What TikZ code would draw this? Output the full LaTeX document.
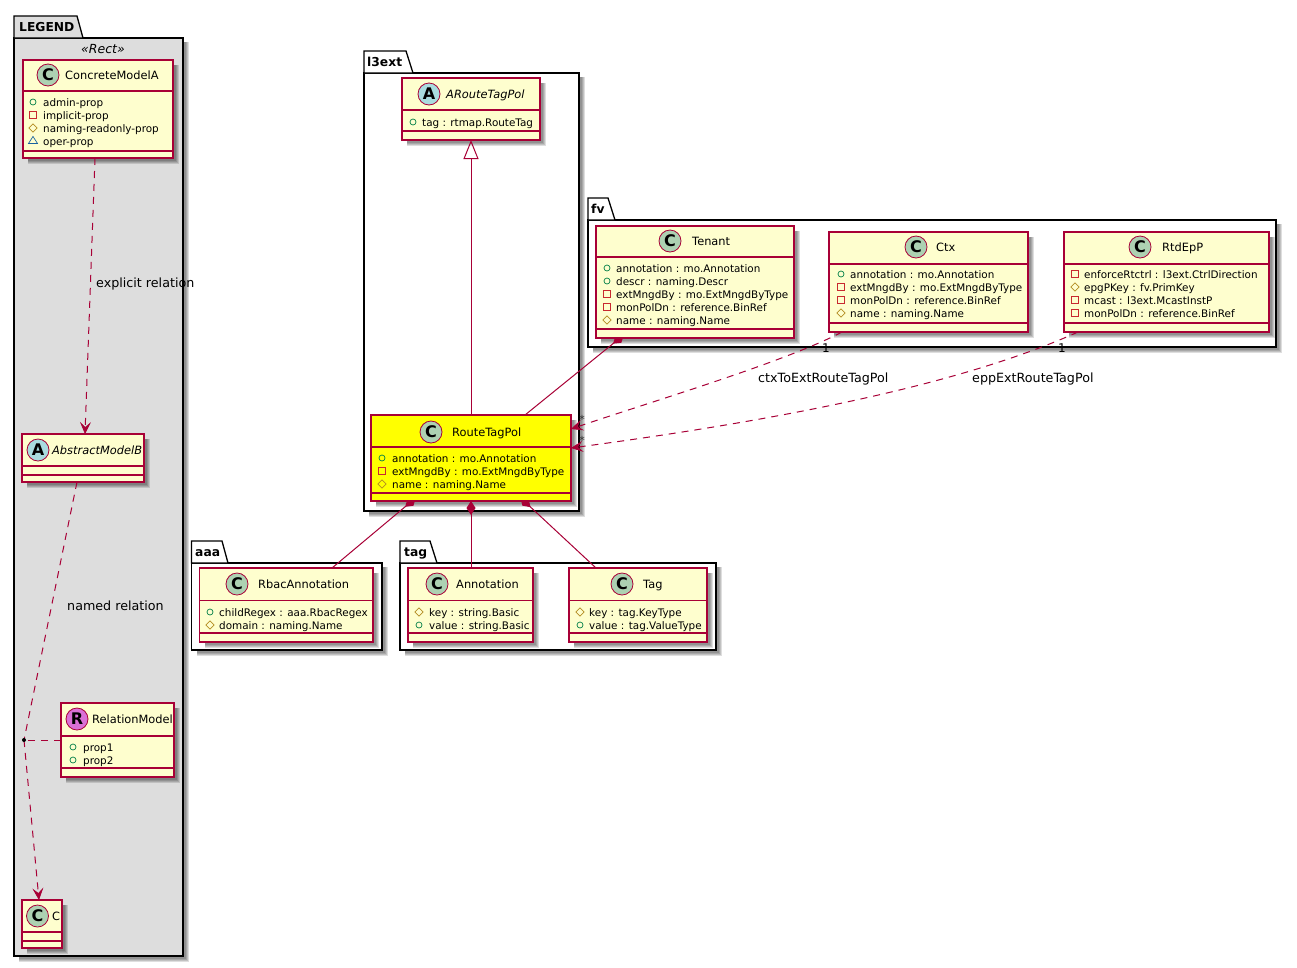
\documentclass[tikz,border=0pt]{standalone}
\usepackage{fontspec}
\setmainfont{DejaVu Sans}
\usepackage{xcolor}
\usetikzlibrary{arrows.meta}
\usetikzlibrary{shapes.geometric}
\definecolor{umlred}{HTML}{A80036}
\definecolor{umlcream}{HTML}{FEFECE}
\definecolor{umlyellow}{HTML}{FFFF00}
\definecolor{legendgrey}{HTML}{DDDDDD}
\definecolor{spotc}{HTML}{ADD1B2}
\definecolor{spota}{HTML}{A9DCDF}
\definecolor{spotr}{HTML}{DA70D6}
\definecolor{pubgreen}{HTML}{038048}
\definecolor{prired}{HTML}{C82930}
\definecolor{proyellow}{HTML}{B38D22}
\definecolor{pkgblue}{HTML}{1963A0}
\pgfdeclarelayer{pkglayer}
\pgfdeclarelayer{shadelayer}
\pgfdeclarelayer{edgelayer}
\pgfsetlayers{pkglayer,shadelayer,edgelayer,main}
\newcommand{\memberrows}[5]{%
  \foreach \v/\t [count=\i] in {#5}{
    \node[\v] (#1-i\i) at (#2,{#4+13*(\i-1)}) {};
    \node[mem] (#1-m\i) at (#3,{#4+13*(\i-1)}) {\t};}}
\begin{document}
\begin{tikzpicture}[x=1pt, y=-1pt,
    cls/.style={draw=umlred, line width=1.25pt, inner sep=0pt, outer sep=0pt},
    clsline/.style={draw=umlred, line width=1.25pt},
    spot/.style={circle, draw=umlred, line width=0.8pt, minimum size=22pt, inner sep=0pt,
                 font=\fontsize{16}{16}\selectfont\bfseries},
    ttl/.style={anchor=west, inner sep=0pt, text height=11pt, text depth=3pt,
                font=\fontsize{11.4}{13}\selectfont},
    mem/.style={anchor=west, inner sep=0pt, text height=10pt, text depth=2pt,
                font=\fontsize{10.4}{13}\selectfont},
    lbl/.style={anchor=west, inner sep=0pt, text height=11pt, text depth=3pt,
                font=\fontsize{12.7}{14}\selectfont},
    card/.style={inner sep=0pt, font=\fontsize{12}{13}\selectfont},
    star/.style={inner sep=0pt, text=black!80, font=\fontsize{11}{12}\selectfont},
    pub/.style={circle, draw=pubgreen, line width=0.7pt, minimum size=6pt, inner sep=0pt},
    pri/.style={rectangle, draw=prired, line width=0.7pt, minimum size=6.5pt, inner sep=0pt},
    pro/.style={diamond, draw=proyellow, line width=0.7pt, minimum size=8.5pt, inner sep=0pt},
    pkg/.style={isosceles triangle, shape border rotate=90, isosceles triangle stretches,
                draw=pkgblue, line width=0.7pt, minimum width=9pt, minimum height=7pt, inner sep=0pt},
    dep/.style={draw=umlred, line width=1pt, dash pattern=on 7pt off 6pt},
    conn/.style={draw=umlred, line width=1pt},
    tipv/.style={-{Stealth[length=12pt, width=11pt, inset=5pt, fill=umlred, line width=0.6pt]}},
    tipo/.style={{Diamond[length=14pt, width=9pt, fill=umlred]}-},
    tipcut/.style={tipo, shorten <=-5pt}]
  \useasboundingbox (0,0) rectangle (1297,967);
  % packages
  \begin{pgfonlayer}{pkglayer}
    \foreach \nm/\lo/\ti/\ro/\bo/\tt/\tr/\tb/\bg in {legend/14/38/183/956/16/77/83/legendgrey,
                                                     lext/364/73/579/511/51/406/413/white,
                                                     fv/588/220/1276/347/198/608/615/white,
                                                     aaa/191.5/563/382/650/541/222/228/white,
                                                     tag/400/563/716/650/541/430/437/white}{
      \foreach \e in {2,1,0,-1}
        \fill[black, opacity=0.13] (\lo+5,\ti+4) rectangle (\ro+4+\e,\bo+4+\e);
      \filldraw[draw=black, line width=1.3pt, fill=\bg] (\lo,\ti) rectangle (\ro,\bo);
      \filldraw[draw=black, line width=1.3pt, fill=\bg] (\lo,\ti) -- (\lo,\tt) -- (\tr,\tt) -- (\tb,\ti) -- cycle;}
  \end{pgfonlayer}
  \foreach \nm/\lx/\ly/\t in {legend/19/27/LEGEND, lext/367/62/l3ext, fv/591/209/fv, aaa/195/552/aaa, tag/404/552/tag}
    \node[anchor=west, inner sep=0pt, text height=11pt, text depth=3pt, font=\fontsize{12.3}{14}\selectfont\bfseries] (\nm-lbl) at (\lx,\ly) {\t};
  \node[inner sep=0pt, font=\fontsize{12.5}{14}\selectfont\itshape] (legend-st) at (103,49) {«Rect»};
  % class boxes
  \foreach \id/\lo/\ti/\ro/\bo/\hd/\se/\bg in {cma/23/60/173/158/91/151/umlcream,
                                               amb/22/434/144/482/466/475/umlcream,
                                               rel/61/703/174/777/736/768/umlcream,
                                               c/22/900/62/948/932/941/umlcream,
                                               art/402/78/540/140/110/131/umlcream,
                                               rtp/371/415/571/501/447/493/umlyellow,
                                               tenant/596/226/794/338/257/329/umlcream,
                                               ctx/829/232/1028/332/264/323/umlcream,
                                               epp/1064/232/1269/332/264/323/umlcream,
                                               rbac/199.5/568/373/642/600.5/633/umlcream,
                                               ann/408/568/533/642/600.5/633/umlcream,
                                               tg/569/568/707/642/600.5/633/umlcream}{
    \begin{pgfonlayer}{shadelayer}
      \foreach \e in {2,1,0,-1}
        \fill[black, opacity=0.13] (\lo+5,\ti+5) rectangle (\ro+4+\e,\bo+4+\e);
    \end{pgfonlayer}
    \node[cls, fill=\bg, minimum width={(\ro-\lo)*1pt}, minimum height={(\bo-\ti)*1pt}] (\id) at ({(\lo+\ro)/2},{(\ti+\bo)/2}) {};
    \draw[clsline] (\lo,\hd) -- (\ro,\hd);
    \draw[clsline] (\lo,\se) -- (\ro,\se);}
  % headers
  \foreach \id/\sx/\sy/\l/\sc/\tx/\t/\fn in {cma/48/75/C/spotc/65/ConcreteModelA/\relax,
                                             amb/38/450/A/spota/52/AbstractModelB/\itshape,
                                             rel/77/719/R/spotr/92/RelationModel/\relax,
                                             c/37.5/916/C/spotc/52/C/\relax,
                                             art/429/94/A/spota/446/ARouteTagPol/\itshape,
                                             rtp/431/432/C/spotc/452/RouteTagPol/\relax,
                                             tenant/670/241/C/spotc/692/Tenant/\relax,
                                             ctx/916/247/C/spotc/936/Ctx/\relax,
                                             epp/1140/247/C/spotc/1162/RtdEpP/\relax,
                                             rbac/237/584/C/spotc/258/RbacAnnotation/\relax,
                                             ann/437/584/C/spotc/456/Annotation/\relax,
                                             tg/622/584/C/spotc/643/Tag/\relax}{
    \node[spot, fill=\sc] (\id-spot) at (\sx,\sy) {\l};
    \node[ttl] (\id-ttl) at (\tx,\sy) {\fn\t};}
  % members
  \memberrows{cma}{33}{43}{102}{pub/admin-prop, pri/implicit-prop, pro/naming-readonly-prop, pkg/oper-prop}
  \memberrows{rel}{73}{83}{747}{pub/prop1, pub/prop2}
  \memberrows{art}{413}{422}{122}{pub/tag : rtmap.RouteTag}
  \memberrows{rtp}{382}{392}{458}{pub/annotation : mo.Annotation, pri/extMngdBy : mo.ExtMngdByType, pro/name : naming.Name}
  \memberrows{tenant}{607}{616}{268}{pub/annotation : mo.Annotation, pub/descr : naming.Descr, pri/extMngdBy : mo.ExtMngdByType, pri/monPolDn : reference.BinRef, pro/name : naming.Name}
  \memberrows{ctx}{841}{850}{274}{pub/annotation : mo.Annotation, pri/extMngdBy : mo.ExtMngdByType, pri/monPolDn : reference.BinRef, pro/name : naming.Name}
  \memberrows{epp}{1075}{1084}{274}{pri/enforceRtctrl : l3ext.CtrlDirection, pro/epgPKey : fv.PrimKey, pri/mcast : l3ext.McastInstP, pri/monPolDn : reference.BinRef}
  \memberrows{rbac}{210}{219}{612}{pub/childRegex : aaa.RbacRegex, pro/domain : naming.Name}
  \memberrows{ann}{419}{429}{612}{pro/key : string.Basic, pub/value : string.Basic}
  \memberrows{tg}{580}{589}{612}{pro/key : tag.KeyType, pub/value : tag.ValueType}
  % connectors
  \node[circle, fill=black, minimum size=4pt, inner sep=0pt] (reldot) at (24,740) {};
  \begin{pgfonlayer}{edgelayer}
    \draw[dep, tipv] ([xshift=-3pt]cma.south) -- ([xshift=2pt]amb.north);
    \draw[dep] ([xshift=-6pt]amb.south) -- (reldot.center);
    \draw[dep] (rel.west |- reldot) -- (reldot.center);
    \draw[dep, tipv] (reldot.center) -- ([xshift=-3pt]c.north);
    \draw[conn, {Triangle[open, length=19pt, width=15pt]}-] (art.south) -- (art.south |- rtp.north);
    \draw[conn, tipcut] ([xshift=-75pt]tenant.south) -- ([xshift=54pt]rtp.north);
    \draw[conn, tipcut] ([xshift=-59pt]rtp.south) -- ([xshift=45.75pt]rbac.north);
    \draw[conn, tipo] (rtp.south) -- (rtp.south |- ann.north);
    \draw[conn, tipcut] ([xshift=53pt]rtp.south) -- ([xshift=-42pt]tg.north);
    \draw[dep, tipv] ([xshift=-86.5pt]ctx.south) .. controls (785,362) and (650,402) .. ([yshift=29pt]rtp.east);
    \draw[dep, tipv] ([xshift=-88.5pt]epp.south) .. controls (960,385) and (780,420) .. ([yshift=10pt]rtp.east);
  \end{pgfonlayer}
  % labels
  \node[lbl] (lab-explicit) at (96,283) {explicit relation};
  \node[lbl] (lab-named) at (67,606) {named relation};
  \node[lbl] (lab-ctx) at (758,378) {ctxToExtRouteTagPol};
  \node[lbl] (lab-epp) at (972,378) {eppExtRouteTagPol};
  \node[card] (card-ctx) at (826,348) {1};
  \node[card] (card-epp) at (1062,348) {1};
  \node[star] (card-a) at (582,419) {*};
  \node[star] (card-b) at (582,440) {*};
\end{tikzpicture}
\end{document}
